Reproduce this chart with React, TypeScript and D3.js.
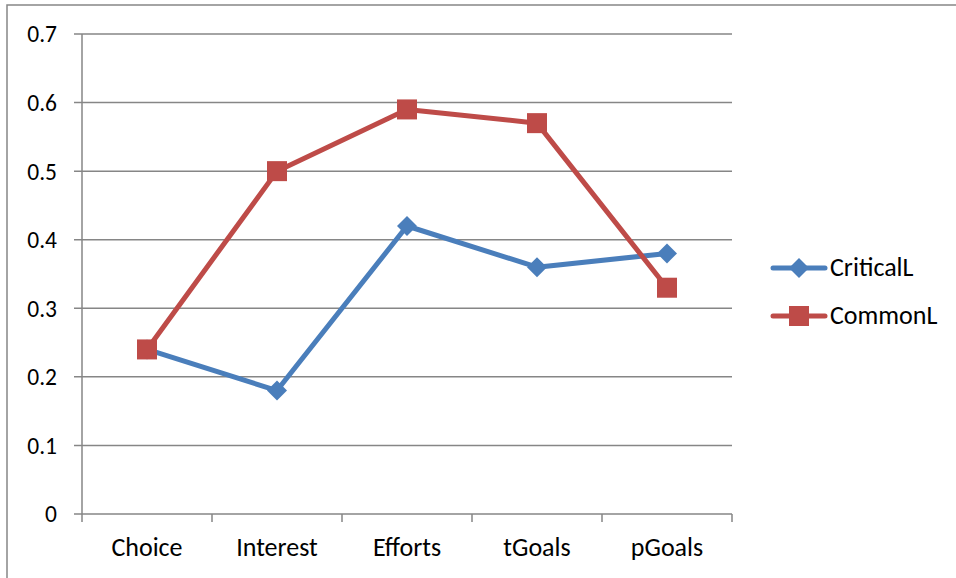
import React from "react";
import * as d3 from "d3";

const categories = ["Choice", "Interest", "Efforts", "tGoals", "pGoals"];
const criticalL = [0.24, 0.18, 0.42, 0.36, 0.38];
const commonL = [0.24, 0.5, 0.59, 0.57, 0.33];
const yTicks = [0, 0.1, 0.2, 0.3, 0.4, 0.5, 0.6, 0.7];

const W = 956;
const H = 578;
const left = 82;
const right = 732;
const top = 34;
const bottom = 514;
const FONT = "Carlito, Calibri, Lato, 'Open Sans', sans-serif";
const GRID = "#868686";
const BLUE = "#4A7EBB";
const RED = "#BE4B48";

export default function App() {
  const x = d3.scaleBand<string>().domain(categories).range([left, right]);
  const y = d3.scaleLinear().domain([0, 0.7]).range([bottom, top]);
  const cx = (c: string) => (x(c) ?? 0) + x.bandwidth() / 2;
  const line = d3
    .line<number>()
    .x((_, i) => cx(categories[i]))
    .y((v) => y(v));

  const bandEdges = [...categories.map((c) => x(c) ?? 0), right];

  const diamond = (px: number, py: number, r: number) =>
    `M${px},${py - r}L${px + r},${py}L${px},${py + r}L${px - r},${py}Z`;

  return (
    <svg
      width={W}
      height={H}
      style={{ position: "absolute", left: 0, top: 0 }}
    >
      <rect x={0} y={0} width={W} height={H} fill="#fff" />
      <rect x={7} y={5} width={W} height={H} fill="none" stroke={GRID} strokeWidth={1.5} />

      {yTicks.map((t) => (
        <g key={t}>
          <line x1={74} x2={right} y1={y(t)} y2={y(t)} stroke={GRID} strokeWidth={1.5} />
          <text
            x={57}
            y={y(t)}
            dy="0.36em"
            textAnchor="end"
            fontFamily={FONT}
            fontSize={23.5}
            fill="#000"
          >
            {t === 0 ? "0" : t.toFixed(1)}
          </text>
        </g>
      ))}
      <line x1={left} x2={left} y1={top} y2={bottom} stroke={GRID} strokeWidth={1.5} />
      {bandEdges.map((e, i) => (
        <line key={i} x1={e} x2={e} y1={bottom} y2={bottom + 8} stroke={GRID} strokeWidth={1.5} />
      ))}
      {categories.map((c) => (
        <text
          key={c}
          x={cx(c)}
          y={bottom + 42}
          textAnchor="middle"
          fontFamily={FONT}
          fontSize={26}
          fill="#000"
        >
          {c}
        </text>
      ))}

      <path d={line(criticalL) ?? ""} fill="none" stroke={BLUE} strokeWidth={5} strokeLinejoin="round" strokeLinecap="round" />
      {criticalL.map((v, i) => (
        <path key={i} d={diamond(cx(categories[i]), y(v), 10)} fill={BLUE} />
      ))}
      <path d={line(commonL) ?? ""} fill="none" stroke={RED} strokeWidth={5} strokeLinejoin="round" strokeLinecap="round" />
      {commonL.map((v, i) => (
        <rect key={i} x={cx(categories[i]) - 10} y={y(v) - 10} width={20} height={20} fill={RED} />
      ))}

      {/* legend */}
      <g>
        <line x1={773} x2={825} y1={268} y2={268} stroke={BLUE} strokeWidth={5} strokeLinecap="round" />
        <path d={diamond(799, 268, 10)} fill={BLUE} />
        <text x={830} y={267} dy="0.36em" fontFamily={FONT} fontSize={26} fill="#000">
          CriticalL
        </text>
        <line x1={773} x2={825} y1={316} y2={316} stroke={RED} strokeWidth={5} strokeLinecap="round" />
        <rect x={789} y={306} width={20} height={20} fill={RED} />
        <text x={830} y={315} dy="0.36em" fontFamily={FONT} fontSize={26} fill="#000">
          CommonL
        </text>
      </g>
    </svg>
  );
}
